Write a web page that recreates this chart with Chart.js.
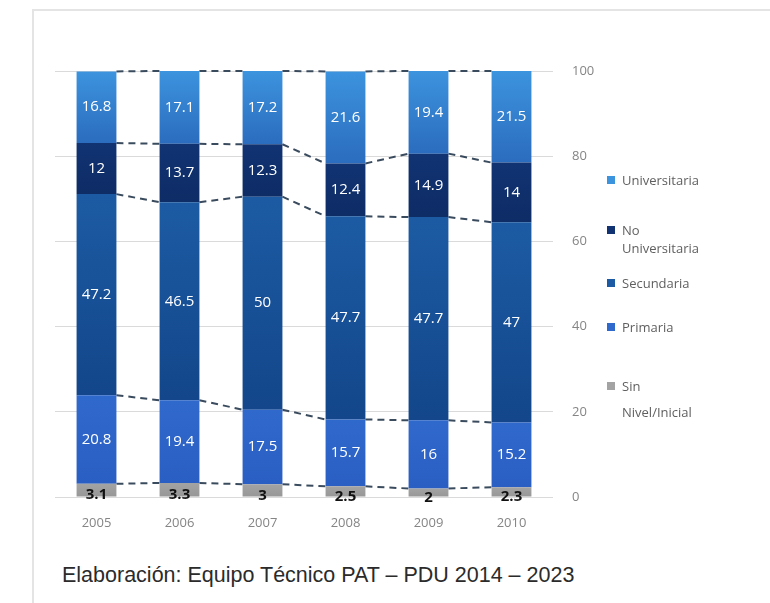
<!DOCTYPE html>
<html>
<head>
<meta charset="utf-8">
<script src="https://cdn.jsdelivr.net/npm/chart.js@4.4.1/dist/chart.umd.min.js"></script>
<style>
  html, body { margin: 0; padding: 0; background: #fff; }
  #page { position: relative; width: 770px; height: 603px; overflow: hidden; }
  #frame { position: absolute; left: 32px; top: 9px; width: 760px; height: 620px;
           border-top: 2px solid #e4e4e4; border-left: 2px solid #e4e4e4; }
  #wrap { position: absolute; left: 0; top: 0; width: 620px; height: 540px; }
  #legend { position: absolute; left: 607px; top: 0; font-family: "Open Sans", sans-serif;
            font-size: 13px; color: #5f5f5f; line-height: 18px; }
  .item { position: absolute; left: 0; white-space: nowrap; }
  .item i { position: absolute; left: 0; top: 5px; width: 8px; height: 8px; }
  .item span { display: block; padding-left: 15px; }
  #caption { position: absolute; left: 62px; top: 563px; font-family: "Liberation Sans", Arial, sans-serif;
             font-size: 21.5px; color: #2b2b2b; }
</style>
</head>
<body>
<div id="page">
  <div id="frame"></div>
  <div id="wrap"><canvas id="chart"></canvas></div>
  <div id="legend"></div>
  <div id="caption">Elaboración: Equipo Técnico PAT – PDU 2014 – 2023</div>
</div>
<script>
const years = ['2005', '2006', '2007', '2008', '2009', '2010'];
const sinNivel = [3.1, 3.3, 3, 2.5, 2, 2.3];
const primaria = [20.8, 19.4, 17.5, 15.7, 16, 15.2];
const secundaria = [47.2, 46.5, 50, 47.7, 47.7, 47];
const noUniversitaria = [12, 13.7, 12.3, 12.4, 14.9, 14];
const universitaria = [16.8, 17.1, 17.2, 21.6, 19.4, 21.5];
const yTicks = [0, 20, 40, 60, 80, 100];

// bottom to top
const series = [
  { label: 'Sin Nivel/Inicial', lines: ['Sin', 'Nivel/Inicial'], data: sinNivel, top: '#a3a3a3', bottom: '#979797', text: '#111', bold: true, shift: 5 },
  { label: 'Primaria', lines: ['Primaria'], data: primaria, top: '#3069cc', bottom: '#2a5ec2', text: '#fff' },
  { label: 'Secundaria', lines: ['Secundaria'], data: secundaria, top: '#1c5ba3', bottom: '#13468a', text: '#fff' },
  { label: 'No Universitaria', lines: ['No', 'Universitaria'], data: noUniversitaria, top: '#113372', bottom: '#0e2c66', text: '#fff' },
  { label: 'Universitaria', lines: ['Universitaria'], data: universitaria, top: '#3c93de', bottom: '#2b6cbe', text: '#fff' }
];

function segmentFill(s, si) {
  return (ctx) => {
    const chart = ctx.chart;
    if (!chart.chartArea || ctx.type !== 'data') return s.top;
    const i = ctx.dataIndex;
    let base = 0;
    for (let k = 0; k < si; k++) base += series[k].data[i];
    const y = chart.scales.y;
    const g = chart.ctx.createLinearGradient(0, y.getPixelForValue(base + s.data[i]), 0, y.getPixelForValue(base));
    g.addColorStop(0, s.top);
    g.addColorStop(1, s.bottom);
    return g;
  };
}

// dashed series lines joining the segment edges of neighbouring bars
const seriesLines = {
  id: 'seriesLines',
  beforeDatasetsDraw(chart) {
    const c = chart.ctx;
    const metas = series.map((s, i) => chart.getDatasetMeta(i));
    c.save();
    c.strokeStyle = '#3a4b5e';
    c.lineWidth = 2;
    c.setLineDash([7, 5]);
    metas.forEach((meta) => {
      for (let i = 0; i < years.length - 1; i++) {
        const a = meta.data[i], b = meta.data[i + 1];
        c.beginPath();
        c.moveTo(a.x + a.width / 2, a.y);
        c.lineTo(b.x - b.width / 2, b.y);
        c.stroke();
      }
    });
    c.restore();
  }
};

// value labels inside each segment
const segmentLabels = {
  id: 'segmentLabels',
  afterDatasetsDraw(chart) {
    const c = chart.ctx;
    c.save();
    c.textAlign = 'center';
    c.textBaseline = 'middle';
    series.forEach((s, si) => {
      const meta = chart.getDatasetMeta(si);
      c.fillStyle = s.text;
      c.font = (s.bold ? 'bold 15px' : '15px') + ' "Open Sans", sans-serif';
      meta.data.forEach((el, i) => {
        const y = (el.y + el.base) / 2 + (s.shift || 0);
        c.fillText(String(s.data[i]), el.x, y);
      });
    });
    c.restore();
  }
};

new Chart(document.getElementById('chart'), {
  type: 'bar',
  data: {
    labels: years,
    datasets: series.map((s, si) => ({
      label: s.label,
      data: s.data,
      backgroundColor: segmentFill(s, si),
      borderWidth: 0,
      barPercentage: 0.48,
      categoryPercentage: 1
    }))
  },
  options: {
    responsive: true,
    maintainAspectRatio: false,
    animation: false,
    layout: { padding: { left: 55, right: 7, top: 71, bottom: 3 } },
    plugins: { legend: { display: false }, tooltip: { enabled: false } },
    scales: {
      x: {
        stacked: true,
        grid: { display: false },
        border: { display: false },
        ticks: { color: '#858585', font: { family: '"Open Sans", sans-serif', size: 13 }, padding: 10 },
        afterFit(scale) { scale.height = 40; }
      },
      y: {
        stacked: true,
        position: 'right',
        min: 0,
        max: 100,
        afterBuildTicks(scale) { scale.ticks = yTicks.map(v => ({ value: v })); },
        grid: { color: '#dadada', lineWidth: 1, drawTicks: false },
        border: { display: false },
        ticks: { color: '#858585', font: { family: '"Open Sans", sans-serif', size: 13 }, padding: 19 },
        afterFit(scale) { scale.width = 60; }
      }
    }
  },
  plugins: [seriesLines, segmentLabels]
});

// legend, top entry first
const legendTops = [171, 221, 274, 318, 377];
const legend = document.getElementById('legend');
series.slice().reverse().forEach((s, k) => {
  const item = document.createElement('div');
  item.className = 'item';
  item.style.top = legendTops[k] + 'px';
  const box = document.createElement('i');
  box.style.background = s.top;
  item.appendChild(box);
  s.lines.forEach((t, j) => {
    const span = document.createElement('span');
    span.textContent = t;
    if (j > 0 && k === 4) span.style.marginTop = '8px';
    item.appendChild(span);
  });
  legend.appendChild(item);
});
</script>
</body>
</html>
